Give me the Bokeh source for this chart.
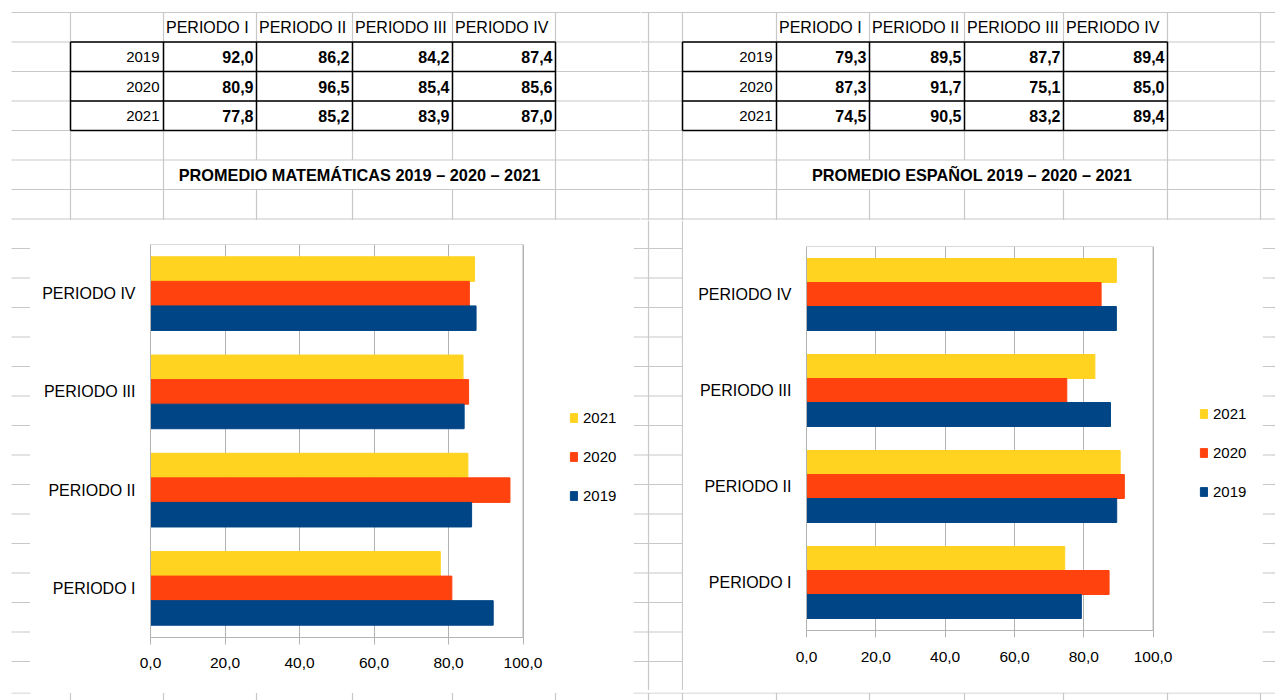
from bokeh.plotting import figure
from bokeh.layouts import row, column
from bokeh.models import (Range1d, FactorRange, FixedTicker, Legend, LegendItem,
                          ColumnDataSource, BoxAnnotation)
from bokeh.transform import dodge
from bokeh.core.properties import value
from bokeh.embed import file_html
from bokeh.resources import INLINE

# ---------------- data ----------------
periods = ["PERIODO I", "PERIODO II", "PERIODO III", "PERIODO IV"]
years = ["2019", "2020", "2021"]

mat_2019 = [92.0, 86.2, 84.2, 87.4]
mat_2020 = [80.9, 96.5, 85.4, 85.6]
mat_2021 = [77.8, 85.2, 83.9, 87.0]

esp_2019 = [79.3, 89.5, 87.7, 89.4]
esp_2020 = [87.3, 91.7, 75.1, 85.0]
esp_2021 = [74.5, 90.5, 83.2, 89.4]

x_ticks = [0, 20, 40, 60, 80, 100]
title_mat = "PROMEDIO MATEMÁTICAS 2019 – 2020 – 2021"
title_esp = "PROMEDIO ESPAÑOL 2019 – 2020 – 2021"

# ---------------- style ----------------
COLORS = {"2019": "#004586", "2020": "#ff420e", "2021": "#ffd320"}
FONT = "Liberation Sans"
GRID = "#c8c8c8"
AXIS = "#b3b3b3"
ROW_Y = [12 + 29.5 * k for k in range(24)]


def fmt(v):
    return f"{v:.1f}".replace(".", ",")


def sheet_fig(x0, x1, y0, y1):
    p = figure(width=int(round(x1 - x0)), height=int(round(y1 - y0)),
               x_range=Range1d(x0, x1), y_range=Range1d(y1, y0),
               x_axis_type=None, y_axis_type=None, toolbar_location=None,
               output_backend="svg", min_border=0, outline_line_color=None,
               background_fill_color="white", border_fill_color="white")
    return p


def hlines(p, xa, xb, ys):
    p.segment(x0=[xa] * len(ys), y0=ys, x1=[xb] * len(ys), y1=ys,
              line_color=GRID, line_width=1.2)


def vlines(p, xs, ya, yb):
    p.segment(x0=xs, y0=[ya] * len(xs), x1=xs, y1=[yb] * len(xs),
              line_color=GRID, line_width=1.2)


def top_panel(x0, x1, cols, extra_v, hx0, title, v19, v20, v21):
    p = sheet_fig(x0, x1, 0, 220)
    hlines(p, hx0, x1, ROW_Y[:8])
    inner = cols[2:-1]
    vx, vy0, vy1 = [], [], []
    for x in cols + extra_v:
        if x in inner:
            vx += [x, x]; vy0 += [ROW_Y[0], ROW_Y[6]]; vy1 += [ROW_Y[5], 220]
        else:
            vx.append(x); vy0.append(ROW_Y[0]); vy1.append(220)
    p.segment(x0=vx, y0=vy0, x1=vx, y1=vy1, line_color=GRID, line_width=1.2)
    # table borders
    ty = ROW_Y[1:5]
    p.segment(x0=[cols[0]] * 4, y0=ty, x1=[cols[-1]] * 4, y1=ty,
              line_color="black", line_width=1.5)
    p.segment(x0=cols, y0=[ty[0]] * len(cols), x1=cols, y1=[ty[-1]] * len(cols),
              line_color="black", line_width=1.5)
    # header
    p.text(x=[c + 2.5 for c in cols[1:-1]], y=[ROW_Y[1] - 15] * 4, text=periods,
           text_font=value(FONT), text_font_size="16px", text_align="left",
           text_baseline="middle", text_color="black")
    # row labels
    p.text(x=[cols[1] - 4] * 3, y=[ROW_Y[k + 2] - 14.5 for k in range(3)], text=years,
           text_font=value(FONT), text_font_size="15px", text_align="right",
           text_baseline="middle", text_color="black")
    # values
    xs, ys, ts = [], [], []
    for r, vals in enumerate([v19, v20, v21]):
        for i, v in enumerate(vals):
            xs.append(cols[i + 2] - 3); ys.append(ROW_Y[r + 2] - 14.5); ts.append(fmt(v))
    p.text(x=xs, y=ys, text=ts, text_font=value(FONT), text_font_size="16px",
           text_font_style="bold", text_align="right", text_baseline="middle",
           text_color="black")
    # title
    p.text(x=[(cols[1] + cols[-1]) / 2], y=[ROW_Y[6] - 14.5], text=[title],
           text_font=value(FONT), text_font_size="16.3px", text_font_style="bold",
           text_align="center", text_baseline="middle", text_color="black")
    return p


def chart(width, height, mbl, mbt, mbb, px_per_100, v19, v20, v21, leg_loc, x_standoff):
    frame_w = width - mbl
    x_end = 100 * frame_w / px_per_100
    p = figure(width=width, height=height, y_range=FactorRange(*periods),
               x_range=Range1d(0, x_end),
               toolbar_location=None, output_backend="svg",
               min_border_left=mbl, min_border_right=0, min_border_top=mbt,
               min_border_bottom=mbb, outline_line_color=None,
               background_fill_color="white", border_fill_color="white")
    src = ColumnDataSource(dict(period=periods, y2019=v19, y2020=v20, y2021=v21))
    r21 = p.hbar(y=dodge("period", 0.25, range=p.y_range), left=0, right="y2021",
                 height=0.25, color=COLORS["2021"], source=src)
    r20 = p.hbar(y=dodge("period", 0.0, range=p.y_range), left=0, right="y2020",
                 height=0.25, color=COLORS["2020"], source=src)
    r19 = p.hbar(y=dodge("period", -0.25, range=p.y_range), left=0, right="y2019",
                 height=0.25, color=COLORS["2019"], source=src)
    p.ygrid.visible = False
    p.xgrid.grid_line_color = AXIS
    p.xgrid.ticker = FixedTicker(ticks=x_ticks)
    p.xaxis.ticker = FixedTicker(ticks=x_ticks)
    p.xaxis.bounds = (x_ticks[0], x_ticks[-1])
    p.xaxis.major_label_overrides = {t: fmt(t) for t in x_ticks}
    p.xaxis.major_tick_out = 7
    p.xaxis.major_tick_in = 0
    p.xaxis.major_tick_line_color = AXIS
    p.xaxis.axis_line_color = AXIS
    p.xaxis.major_label_standoff = x_standoff
    p.xaxis.major_label_text_font_size = "15.5px"
    p.yaxis.major_tick_out = 0
    p.yaxis.major_tick_in = 0
    p.yaxis.axis_line_color = AXIS
    p.yaxis.major_label_standoff = 15
    p.yaxis.major_label_text_font_size = "16px"
    for ax in (p.xaxis, p.yaxis):
        ax.major_label_text_font = FONT
        ax.major_label_text_color = "black"
    # plot-area border
    p.add_layout(BoxAnnotation(left=x_ticks[0], right=x_ticks[-1], fill_alpha=0,
                               fill_color=None, line_color=AXIS, line_alpha=1,
                               line_width=1))
    legend = Legend(items=[LegendItem(label="2021", renderers=[r21]),
                           LegendItem(label="2020", renderers=[r20]),
                           LegendItem(label="2019", renderers=[r19])],
                    location=leg_loc, glyph_width=9, glyph_height=11,
                    label_standoff=5, spacing=19, padding=0, margin=0,
                    label_height=20, border_line_color=None,
                    background_fill_alpha=0, label_text_font=FONT,
                    label_text_font_size="15px", label_text_color="black")
    p.add_layout(legend, "center")
    return p


left_cols = [70, 163, 256, 352, 452, 555]
right_cols = [682, 776, 869, 964, 1063, 1167]

top_left = top_panel(0, 640, left_cols, [], 11, title_mat, mat_2019, mat_2020, mat_2021)
top_right = top_panel(640, 1275, right_cols, [648, 1260], 640, title_esp,
                      esp_2019, esp_2020, esp_2021)

stub_l = sheet_fig(0, 30, 220, 690)
hlines(stub_l, 11, 30, ROW_Y[8:])
stub_m = sheet_fig(633, 683, 220, 690)
hlines(stub_m, 633, 683, ROW_Y[8:])
vlines(stub_m, [648, 682], 220, 690)
stub_r = sheet_fig(1262, 1275, 220, 690)
hlines(stub_r, 1262, 1275, ROW_Y[8:])

# left chart: frame x 150..633 (0->150, 100->522.5), y 244..637
chart_l = chart(603, 470, 120, 24, 53, 372.5, mat_2019, mat_2020, mat_2021, (419, 132), 13)
# right chart: frame x 806..1262 (0->806, 100->1152.6), y 246..630
chart_r = chart(579, 470, 123, 26, 60, 346.6, esp_2019, esp_2020, esp_2021, (393, 128.5), 14)

strip = sheet_fig(0, 1275, 690, 700)
strip.segment(x0=[11, 633], y0=[690.5, 690.5], x1=[30, 1275], y1=[690.5, 690.5],
              line_color=GRID, line_width=1.2)
vlines(strip, left_cols + [648] + right_cols + [1260], 690.5, 700)

layout = column(row(top_left, top_right),
                row(stub_l, column(chart_l), stub_m, column(chart_r), stub_r),
                strip)

open("out.html", "w").write(file_html(layout, INLINE))
